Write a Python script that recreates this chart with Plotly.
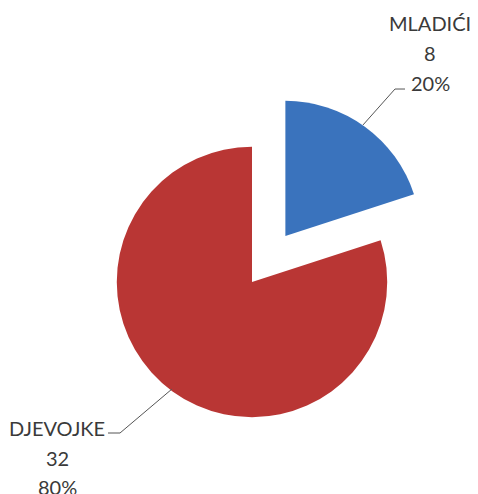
import plotly.graph_objects as go

labels = ["MLADIĆI", "DJEVOJKE"]
values = [8, 32]
colors = ["#3A73BD", "#B93634"]
pulls = [0.42, 0.0]

# page body has an 8px margin; figure drawn at offset (8, 8)
OFF = 8
W, H = 470, 486

def px(x, y):
    return (x - OFF) / W, 1 - (y - OFF) / H

total = sum(values)
pcts = [round(v * 100 / total) for v in values]

dx0, dy1 = px(60, 90)
dx1, dy0 = px(444, 474)
fig = go.Figure(go.Pie(
    labels=labels, values=values, sort=False, direction="clockwise", rotation=0,
    pull=pulls, marker=dict(colors=colors, line=dict(width=0)),
    textinfo="none", hoverinfo="label+value+percent",
    domain=dict(x=[dx0, dx1], y=[dy0, dy1]),
))

font = dict(family="Lato, Open Sans, sans-serif", size=20, color="#3a3a3a")
label_pos = [(430, [23, 53, 83]), (57, [428, 458, 487])]
annotations = []
for i, (cx, ys) in enumerate(label_pos):
    lines = [labels[i], str(values[i]), f"{pcts[i]}%"]
    for t, y in zip(lines, ys):
        x0, y0 = px(cx, y)
        annotations.append(dict(x=x0, y=y0, xref="paper", yref="paper", text=t,
                                showarrow=False, xanchor="center", yanchor="middle", font=font))

def path(pts):
    s = ""
    for j, (x, y) in enumerate(pts):
        a, b = px(x, y)
        s += ("M" if j == 0 else "L") + f"{a:.4f},{b:.4f} "
    return s.strip()

shapes = [
    dict(type="path", xref="paper", yref="paper", path=path([(405, 89), (395, 89), (363, 125)]),
         line=dict(color="#555555", width=1)),
    dict(type="path", xref="paper", yref="paper", path=path([(108, 433), (120, 433), (172, 389)]),
         line=dict(color="#555555", width=1)),
]

fig.update_layout(width=W, height=H, margin=dict(l=0, r=0, t=0, b=0),
                  paper_bgcolor="white", plot_bgcolor="white", showlegend=False,
                  annotations=annotations, shapes=shapes)
fig.write_html("out.html")
